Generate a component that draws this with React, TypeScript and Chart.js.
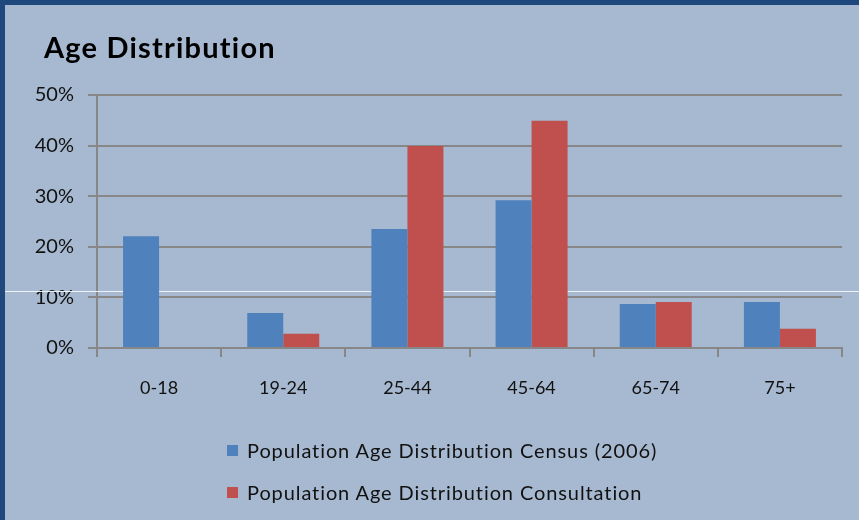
import React, { useEffect, useRef } from "react";
import { Chart, registerables } from "chart.js";

Chart.register(...registerables);

const categories = ["0-18", "19-24", "25-44", "45-64", "65-74", "75+"];
const censusValues = [22.1, 6.9, 23.5, 29.2, 8.7, 9.1];
const consultationValues = [0, 2.8, 39.9, 44.9, 9.1, 3.8];
const yTicks = [0, 10, 20, 30, 40, 50];
const titleText = "Age Distribution";
const censusLabel = "Population Age Distribution Census (2006)";
const consultationLabel = "Population Age Distribution Consultation";

const FONT = "Lato, 'Open Sans', sans-serif";
const BLUE = "#4f81bd";
const RED = "#c0504d";
const GRID = "#878787";

const whiteLine = {
  id: "whiteLine",
  beforeDatasetsDraw(chart: any) {
    const ctx = chart.ctx;
    ctx.save();
    ctx.strokeStyle = "rgba(240,244,250,0.95)";
    ctx.lineWidth = 1;
    ctx.beginPath();
    ctx.moveTo(0, 286.5);
    ctx.lineTo(chart.width, 286.5);
    ctx.stroke();
    ctx.restore();
  },
};

export default function App() {
  const ref = useRef<HTMLCanvasElement>(null);

  useEffect(() => {
    if (!ref.current) return;
    const chart = new Chart(ref.current, {
      type: "bar",
      data: {
        labels: categories,
        datasets: [
          { label: censusLabel, data: censusValues, backgroundColor: BLUE, categoryPercentage: 0.58, barPercentage: 1 },
          { label: consultationLabel, data: consultationValues, backgroundColor: RED, categoryPercentage: 0.58, barPercentage: 1 },
        ],
      },
      options: {
        animation: false,
        responsive: false,
        maintainAspectRatio: false,
        layout: { padding: { top: 90, right: 17, left: 0, bottom: 0 } },
        plugins: {
          legend: { display: false },
          title: { display: false },
          tooltip: { enabled: false },
        },
        scales: {
          x: {
            offset: true,
            grid: {
              offset: true,
              drawOnChartArea: false,
              drawTicks: true,
              tickLength: 9,
              color: GRID,
              lineWidth: 2,
            },
            border: { display: true, color: GRID, width: 2 },
            ticks: { color: "#111", font: { family: FONT, size: 18 }, padding: 20 },
            afterFit: (s: any) => { s.height = 172; },
          },
          y: {
            min: 0,
            max: 50,
            afterBuildTicks: (s: any) => { s.ticks = yTicks.map((v) => ({ value: v })); },
            grid: { color: GRID, lineWidth: 2, tickLength: 9 },
            border: { display: true, color: GRID, width: 2 },
            ticks: {
              color: "#111",
              font: { family: FONT, size: 20 },
              padding: 14,
              callback: (v: any) => v + "%",
            },
            afterFit: (s: any) => { s.width = 92; },
          },
        },
      },
      plugins: [whiteLine],
    });
    return () => chart.destroy();
  }, []);

  return (
    <div style={{ position: "fixed", left: 0, top: 0, width: 859, height: 520, background: "#a7b9d0", overflow: "hidden", fontFamily: FONT }}>
      <div style={{ position: "absolute", left: 0, top: 0, width: 859, height: 5, background: "#1f497d" }} />
      <div style={{ position: "absolute", left: 0, top: 0, width: 5, height: 520, background: "#1f497d" }} />
      <canvas ref={ref} width={854} height={515} style={{ position: "absolute", left: 5, top: 5, width: 854, height: 515 }} />
      <div style={{ position: "absolute", left: 44, top: 29, fontSize: 29, letterSpacing: 1.2, fontWeight: 700, color: "#000", lineHeight: "36px", whiteSpace: "nowrap" }}>{titleText}</div>
      {[{ c: BLUE, t: censusLabel, y: 438 }, { c: RED, t: consultationLabel, y: 480 }].map((it) => (
        <div key={it.t} style={{ position: "absolute", left: 227, top: it.y, display: "flex", alignItems: "center", whiteSpace: "nowrap" }}>
          <span style={{ display: "inline-block", width: 11, height: 11, background: it.c, marginRight: 9 }} />
          <span style={{ fontSize: 20, letterSpacing: 0.9, color: "#111", lineHeight: "24px" }}>{it.t}</span>
        </div>
      ))}
    </div>
  );
}
